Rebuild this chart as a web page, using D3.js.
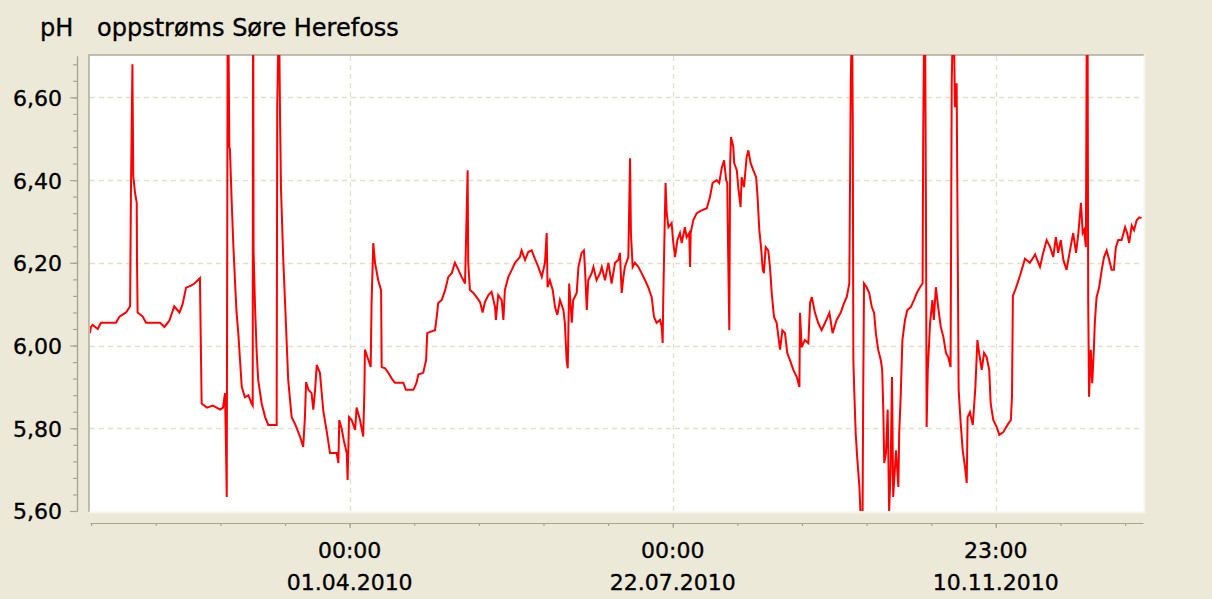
<!DOCTYPE html>
<html>
<head>
<meta charset="utf-8">
<script src="https://cdn.jsdelivr.net/npm/d3@7"></script>
<style>
  body { margin: 0; background: #ECE9D8; }
  svg { display: block; font-family: "DejaVu Sans", Verdana, sans-serif; }
  svg text { stroke: #000; stroke-width: 0.35px; }
</style>
</head>
<body>
<div class="svg_container"></div>
<script>
// chart texts and ticks
var titleUnit = "pH";
var titleName = "oppstrøms Søre Herefoss";
var yTicks = [5.6, 5.8, 6.0, 6.2, 6.4, 6.6];
var xTickDates = ["2010-04-01T00:00Z", "2010-07-22T00:00Z", "2010-11-10T23:00Z"];
var xTickTimes = ["00:00", "00:00", "23:00"];
var xTickDays = ["01.04.2010", "22.07.2010", "10.11.2010"];

// measurements: days after 01.01.2010 and pH
var days = [0.0, 0.3, 0.9, 2.7, 3.8, 9.0, 10.2, 12.5, 13.9, 14.2, 14.7, 15.0, 15.6, 16.2, 16.3, 16.5,
  18.3, 19.4, 21.7, 24.3, 25.8, 27.5, 29.2, 31.0, 32.1, 33.3, 35.0, 36.2, 38.1, 38.4, 38.7, 40.5,
  42.6, 45.1, 46.1, 46.8, 47.1, 47.4, 47.7, 48.0, 48.3, 48.5, 49.1, 49.7, 50.3, 50.8, 51.4, 52.0,
  52.6, 53.7, 54.9, 56.0, 56.4, 56.5, 56.6, 56.7, 57.2, 57.8, 58.3, 59.5, 60.7, 61.8, 64.7, 64.9,
  65.3, 65.6, 65.9, 66.2, 67.0, 67.9, 68.7, 69.9, 71.1, 72.8, 73.9, 74.5, 74.9, 75.7, 76.8, 77.4,
  78.0, 78.6, 79.7, 80.9, 82.0, 83.2, 85.5, 86.1, 86.4, 87.2, 88.0, 89.0, 89.3, 89.8, 90.7, 91.9,
  92.4, 93.6, 94.7, 95.1, 95.3, 96.5, 97.3, 97.6, 98.2, 98.8, 99.9, 100.9, 101.1, 102.3, 103.4, 104.6,
  105.7, 108.6, 109.5, 112.1, 113.2, 113.8, 115.5, 116.5, 116.9, 117.9, 119.6, 120.2, 120.7, 121.9, 123.1, 124.2,
  125.4, 126.5, 127.7, 128.8, 130.0, 130.9, 131.1, 131.7, 132.9, 134.0, 135.2, 136.1, 136.9, 138.1, 139.2, 140.4,
  140.7, 141.5, 142.7, 143.3, 143.8, 145.0, 146.2, 147.3, 149.0, 149.6, 150.8, 151.9, 153.1, 154.2, 155.4, 156.6,
  157.7, 158.3, 158.6, 159.4, 160.4, 161.2, 162.0, 162.9, 164.1, 164.6, 165.2, 165.6, 166.1, 167.0, 167.5, 168.7,
  169.3, 170.4, 171.2, 171.6, 172.2, 172.7, 173.9, 174.5, 175.6, 176.8, 177.4, 178.5, 179.7, 180.8, 182.0, 183.1,
  183.7, 184.3, 184.9, 185.4, 186.6, 187.2, 187.5, 188.1, 188.9, 190.1, 191.2, 192.4, 193.5, 194.7, 195.5, 196.4,
  197.6, 198.2, 198.5, 198.7, 199.1, 199.5, 199.9, 200.5, 201.6, 202.2, 202.8, 203.6, 204.5, 205.1, 206.2, 206.8,
  207.7, 208.0, 208.2, 209.1, 210.3, 212.0, 213.8, 214.9, 215.8, 217.2, 218.1, 219.0, 219.8, 220.5, 220.9, 221.2,
  221.6, 221.9, 222.2, 223.0, 223.3, 224.2, 224.7, 225.5, 225.9, 226.7, 227.6, 228.2, 229.0, 229.9, 230.9, 231.4,
  232.0, 232.6, 233.2, 233.6, 234.2, 235.1, 235.7, 236.3, 237.1, 238.0, 239.2, 240.0, 240.9, 241.7, 242.6, 243.8,
  245.0, 245.9, 246.1, 246.7, 247.8, 249.0, 249.6, 250.2, 251.3, 252.4, 253.6, 254.8, 256.3, 257.4, 258.8, 260.2,
  261.4, 262.3, 263.2, 263.7, 264.0, 264.2, 264.4, 264.6, 264.9, 265.4, 266.0, 266.7, 267.1, 267.8, 268.0, 268.3,
  269.2, 270.1, 271.0, 271.8, 272.4, 273.2, 274.1, 274.6, 275.0, 275.3, 275.9, 276.5, 277.0, 277.5, 278.0, 278.4,
  279.4, 280.2, 280.5, 281.0, 281.6, 282.5, 283.3, 284.5, 285.6, 286.6, 287.7, 288.6, 288.8, 289.1, 289.5, 289.8,
  290.0, 290.4, 291.2, 292.0, 292.5, 293.2, 294.0, 294.9, 295.8, 296.7, 297.5, 298.3, 298.7, 299.0, 299.5, 299.8,
  300.4, 300.8, 301.1, 301.8, 302.5, 303.3, 303.9, 304.2, 305.0, 306.0, 306.9, 307.6, 308.2, 309.1, 309.9, 310.8,
  311.7, 312.2, 313.1, 314.3, 315.2, 316.5, 318.2, 319.2, 319.6, 319.9, 321.0, 322.4, 324.1, 325.8, 327.6, 329.3,
  330.4, 331.6, 332.8, 333.9, 334.8, 335.6, 336.5, 337.4, 338.5, 339.7, 340.8, 341.8, 342.6, 343.5, 344.1, 344.6,
  345.2, 345.5, 345.8, 346.0, 346.3, 346.9, 347.4, 348.0, 348.3, 348.9, 349.8, 350.7, 351.5, 352.4, 353.3, 354.1,
  354.9, 355.6, 356.4, 357.6, 358.8, 359.5, 360.2, 361.1, 361.9, 362.8, 363.7, 364.5];

var ph = [6.03, 6.045, 6.05, 6.04, 6.055, 6.055, 6.07, 6.08, 6.095, 6.375, 6.68, 6.41, 6.37, 6.345, 6.20, 6.08,
  6.07, 6.055, 6.055, 6.055, 6.045, 6.06, 6.095, 6.08, 6.10, 6.14, 6.145, 6.15, 6.163, 6.013, 5.86, 5.85,
  5.855, 5.845, 5.85, 5.885, 5.77, 5.634, 6.75, 6.75, 6.48, 6.475, 6.35, 6.24, 6.15, 6.08, 6.03, 5.965,
  5.90, 5.875, 5.88, 5.86, 5.855, 6.75, 6.75, 6.23, 6.095, 5.98, 5.917, 5.86, 5.827, 5.808, 5.808, 6.576,
  6.75, 6.75, 6.538, 6.38, 6.207, 6.055, 5.917, 5.827, 5.81, 5.78, 5.755, 5.827, 5.912, 5.893, 5.885, 5.845,
  5.89, 5.953, 5.934, 5.84, 5.795, 5.74, 5.74, 5.716, 5.82, 5.80, 5.77, 5.74, 5.675, 5.827, 5.82, 5.796,
  5.85, 5.82, 5.78, 5.885, 5.99, 5.965, 5.948, 6.103, 6.248, 6.20, 6.158, 6.134, 5.948, 5.945, 5.934, 5.92,
  5.91, 5.91, 5.893, 5.893, 5.91, 5.93, 5.934, 5.965, 6.03, 6.033, 6.037, 6.07, 6.103, 6.11, 6.134, 6.166,
  6.175, 6.20, 6.183, 6.166, 6.15, 6.424, 6.20, 6.134, 6.127, 6.117, 6.105, 6.08, 6.105, 6.122, 6.13, 6.093,
  6.062, 6.122, 6.11, 6.062, 6.134, 6.166, 6.183, 6.20, 6.214, 6.23, 6.207, 6.226, 6.23, 6.21, 6.19, 6.166,
  6.20, 6.272, 6.141, 6.158, 6.134, 6.093, 6.074, 6.11, 6.086, 6.055, 5.965, 5.945, 6.15, 6.055, 6.11, 6.127,
  6.19, 6.224, 6.23, 6.183, 6.086, 6.158, 6.175, 6.19, 6.158, 6.175, 6.19, 6.158, 6.20, 6.15, 6.20, 6.207,
  6.224, 6.127, 6.166, 6.19, 6.214, 6.453, 6.272, 6.19, 6.20, 6.19, 6.175, 6.158, 6.141, 6.117, 6.069, 6.055,
  6.062, 6.045, 6.006, 6.11, 6.255, 6.393, 6.32, 6.286, 6.296, 6.248, 6.214, 6.255, 6.272, 6.248, 6.286, 6.262,
  6.272, 6.19, 6.272, 6.303, 6.32, 6.327, 6.332, 6.359, 6.393, 6.40, 6.393, 6.43, 6.448, 6.40, 6.393, 6.224,
  6.037, 6.441, 6.504, 6.48, 6.441, 6.424, 6.383, 6.335, 6.407, 6.383, 6.455, 6.472, 6.441, 6.424, 6.407, 6.359,
  6.279, 6.238, 6.183, 6.175, 6.238, 6.23, 6.19, 6.127, 6.069, 6.055, 5.99, 6.037, 6.03, 5.982, 5.965, 5.941,
  5.924, 5.90, 6.079, 5.996, 6.013, 6.006, 6.103, 6.117, 6.079, 6.055, 6.037, 6.055, 6.079, 6.03, 6.062, 6.079,
  6.103, 6.117, 6.15, 6.634, 6.75, 6.75, 6.538, 5.965, 5.893, 5.789, 5.723, 5.658, 5.59, 5.59, 5.868, 6.15,
  6.141, 6.127, 6.093, 6.079, 6.03, 5.99, 5.965, 5.941, 5.837, 5.716, 5.74, 5.845, 5.60, 5.692, 5.924, 5.634,
  5.747, 5.658, 5.789, 5.876, 6.013, 6.062, 6.086, 6.093, 6.11, 6.127, 6.141, 6.15, 6.49, 6.75, 6.75, 6.262,
  5.803, 5.941, 6.055, 6.11, 6.062, 6.141, 6.093, 6.045, 6.021, 5.982, 5.972, 5.948, 6.634, 6.75, 6.75, 6.576,
  6.634, 6.207, 5.893, 5.813, 5.747, 5.706, 5.668, 5.827, 5.839, 5.808, 5.90, 6.013, 5.982, 5.941, 5.982, 5.972,
  5.941, 5.86, 5.82, 5.803, 5.784, 5.79, 5.81, 5.82, 5.88, 6.12, 6.14, 6.17, 6.21, 6.20, 6.22, 6.19,
  6.224, 6.255, 6.238, 6.214, 6.262, 6.224, 6.255, 6.207, 6.183, 6.23, 6.272, 6.224, 6.272, 6.345, 6.272, 6.279,
  6.238, 6.75, 6.75, 6.11, 5.876, 5.99, 5.909, 5.996, 6.055, 6.117, 6.141, 6.183, 6.214, 6.23, 6.207, 6.183,
  6.183, 6.238, 6.255, 6.255, 6.286, 6.272, 6.248, 6.29, 6.279, 6.303, 6.31, 6.308];

var width = 1212, height = 599;
var plot = { left: 90, right: 1143, top: 56, bottom: 511 };

var start = new Date(Date.UTC(2010, 0, 1));
var data = days.map(function(d, i) {
  return { date: new Date(start.getTime() + d * 864e5), ph: ph[i] };
});

var x = d3.scaleUtc()
  .domain([start, new Date(Date.UTC(2011, 0, 1))])
  .range([plot.left, plot.right]);
var y = d3.scaleLinear()
  .domain([5.6, 6.7])
  .range([plot.bottom, plot.top]);

var nb = d3.formatLocale({ decimal: ",", thousands: " ", grouping: [3], currency: ["", ""] });
var fmt = nb.format(".2f");

var majorDates = xTickDates.map(function(s) { return new Date(s); });
// minor x ticks: five per major step
var step = (majorDates[1] - majorDates[0]) / 5;
var minorDates = [];
for (var t = majorDates[0].getTime(); t >= x.domain()[0].getTime(); t -= step) minorDates.push(new Date(t));
for (var t2 = majorDates[0].getTime() + step; t2 <= x.domain()[1].getTime(); t2 += step) minorDates.push(new Date(t2));
var minorY = d3.range(5.64, 6.7, 0.04);

var svg = d3.select(".svg_container").append("svg")
  .attr("width", width)
  .attr("height", height);

svg.append("rect").attr("width", width).attr("height", height).attr("fill", "#ECE9D8");

// title
svg.append("text").attr("x", 40).attr("y", 36).attr("font-size", 24).attr("fill", "#000").text(titleUnit);
svg.append("text").attr("x", 97).attr("y", 36).attr("font-size", 24).attr("fill", "#000").text(titleName);

// plot background
svg.append("rect")
  .attr("x", plot.left - 1).attr("y", plot.top - 1)
  .attr("width", plot.right - plot.left + 2).attr("height", plot.bottom - plot.top + 2)
  .attr("fill", "#fff");
svg.append("path")
  .attr("d", "M" + (plot.left - 1) + "," + (plot.bottom + 1) + "V" + (plot.top - 1) + "H" + (plot.right + 1))
  .attr("fill", "none").attr("stroke", "#aeaa9a").attr("stroke-width", 1.5);
svg.append("path")
  .attr("d", "M" + (plot.left - 1) + "," + (plot.bottom + 1.5) + "H" + (plot.right + 1.5) + "V" + (plot.top - 1))
  .attr("fill", "none").attr("stroke", "#f6f4ec").attr("stroke-width", 2);

// grid
var grid = svg.append("g")
  .attr("stroke", "#e4dfc8").attr("stroke-width", 1.3).attr("stroke-dasharray", "5,4");
grid.selectAll(".gy").data(yTicks.slice(1)).enter().append("line")
  .attr("x1", plot.left).attr("x2", plot.right)
  .attr("y1", function(d) { return Math.round(y(d)) + 0.5; })
  .attr("y2", function(d) { return Math.round(y(d)) + 0.5; });
grid.selectAll(".gx").data(majorDates).enter().append("line")
  .attr("y1", plot.top).attr("y2", plot.bottom)
  .attr("x1", function(d) { return Math.round(x(d)) + 0.5; })
  .attr("x2", function(d) { return Math.round(x(d)) + 0.5; });

// line
svg.append("clipPath").attr("id", "clip")
  .append("rect")
  .attr("x", plot.left).attr("y", plot.top - 1)
  .attr("width", plot.right - plot.left).attr("height", plot.bottom - plot.top + 1);

var line = d3.line()
  .x(function(d) { return x(d.date); })
  .y(function(d) { return y(d.ph); });

svg.append("path")
  .datum(data)
  .attr("clip-path", "url(#clip)")
  .attr("fill", "none")
  .attr("stroke", "#ff0000")
  .attr("stroke-width", 2)
  .attr("stroke-linejoin", "miter")
  .attr("d", line);

// y axis
var yAxisX = 77;
var yMinor = svg.append("g")
  .attr("transform", "translate(" + yAxisX + ",0)")
  .call(d3.axisLeft(y).tickValues(minorY).tickSize(4).tickSizeOuter(0).tickFormat(""));
var yMajor = svg.append("g")
  .attr("transform", "translate(" + yAxisX + ",0)")
  .call(d3.axisLeft(y).tickValues(yTicks).tickSize(7).tickSizeOuter(0).tickPadding(8).tickFormat(fmt));
yMajor.selectAll("text").attr("font-size", 22).attr("fill", "#000").attr("font-family", "DejaVu Sans").attr("dy", "0.36em");

// x axis
var xAxisY = 523;
var xMinor = svg.append("g")
  .attr("transform", "translate(0," + xAxisY + ")")
  .call(d3.axisBottom(x).tickValues(minorDates).tickSize(3).tickSizeOuter(0).tickFormat(""));
var xMajor = svg.append("g")
  .attr("transform", "translate(0," + xAxisY + ")")
  .call(d3.axisBottom(x).tickValues(majorDates).tickSize(5).tickSizeOuter(0).tickFormat(""));

[yMinor, yMajor, xMinor, xMajor].forEach(function(g) {
  g.selectAll("path.domain").attr("stroke", "#a8a597").attr("stroke-width", 1.2);
  g.selectAll(".tick line").attr("stroke", "#a8a597").attr("stroke-width", 1.2);
});
xMinor.select("path.domain").attr("d", "M91.5,0.5H1141.5");

var xLabels = svg.append("g").attr("font-size", 22).attr("fill", "#000").attr("text-anchor", "middle");
xLabels.selectAll(".t1").data(majorDates).enter().append("text")
  .attr("x", function(d) { return x(d); }).attr("y", 558)
  .text(function(d, i) { return xTickTimes[i]; });
xLabels.selectAll(".t2").data(majorDates).enter().append("text")
  .attr("x", function(d) { return x(d); }).attr("y", 590)
  .text(function(d, i) { return xTickDays[i]; });
</script>
</body>
</html>
